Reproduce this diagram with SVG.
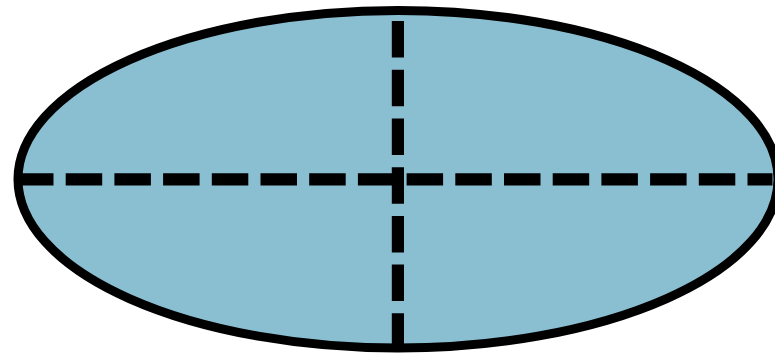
<svg xmlns="http://www.w3.org/2000/svg" width="775" height="354" viewBox="0 0 775 354">
<style>
.body{fill:#8ABFD2;stroke:#000;stroke-width:9}
.axis{fill:none;stroke:#000;stroke-width:12.2;stroke-dasharray:36.5 12.2}
</style>
<rect width="775" height="354" fill="#fff"/>
<g id="ellipse">
<ellipse class="body" cx="398" cy="179.2" rx="380" ry="168.8"/>
</g>
<g id="connectors">
<path class="axis" d="M17 179.3 L772.5 179.3"/>
<path class="axis" d="M397.9 349.8 L397.9 10"/>
</g>
</svg>
